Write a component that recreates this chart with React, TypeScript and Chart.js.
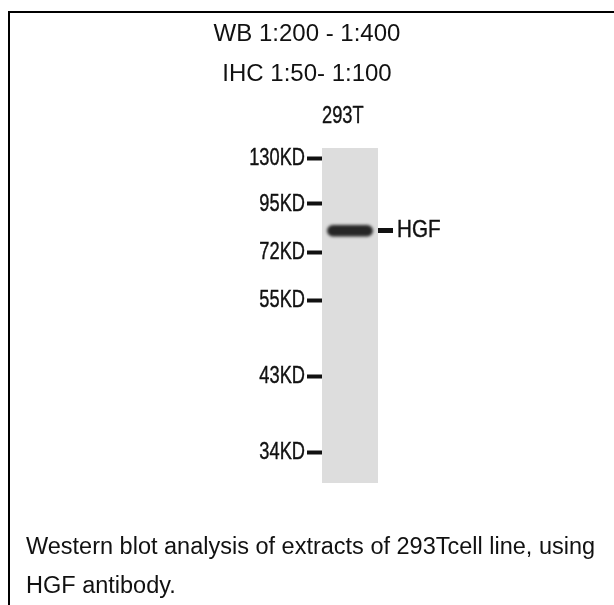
import { useEffect, useRef } from 'react';
import { Chart, registerables } from 'chart.js';

Chart.register(...registerables);

// ---- data ----
const titleLines = ['WB 1:200 - 1:400', 'IHC 1:50- 1:100'];
const laneLabels = ['293T'];
const laneExtent = [0, 1]; // relative mobility, top to bottom of the lane
const markerLabels = ['130KD', '95KD', '72KD', '55KD', '43KD', '34KD'];
const markerMobility = [0.031, 0.167, 0.312, 0.454, 0.681, 0.91];
const bandLabels = ['HGF'];
const bandMobility = [0.247];
const bandHalfWidth = [0.017];
const captionLines = [
  'Western blot analysis of extracts of 293Tcell line, using',
  'HGF antibody.',
];

const FONT = "'Liberation Sans', Arial, Helvetica, sans-serif";

const framePlugin = {
  id: 'frame',
  beforeDraw(chart: any) {
    const ctx = chart.ctx;
    ctx.save();
    ctx.fillStyle = '#ffffff';
    ctx.fillRect(0, 0, chart.width, chart.height);
    ctx.fillStyle = '#000000';
    ctx.fillRect(8, 11, chart.width - 8, 2);
    ctx.fillRect(8, 11, 2, chart.height - 11);
    ctx.restore();
  },
};

const blurPlugin = {
  id: 'datasetBlur',
  beforeDatasetDraw(chart: any, args: any) {
    const b = chart.data.datasets[args.index].blur;
    if (b) {
      chart.ctx.save();
      chart.ctx.filter = `blur(${b}px)`;
    }
  },
  afterDatasetDraw(chart: any, args: any) {
    const b = chart.data.datasets[args.index].blur;
    if (b) chart.ctx.restore();
  },
};

// Tick labels drawn in a condensed face (the blot labels are narrow), placed from the scales.
const condensedLabels = {
  id: 'condensedLabels',
  afterDraw(chart: any, _args: any, opts: any) {
    const ctx = chart.ctx;
    ctx.save();
    ctx.fillStyle = opts.color;
    ctx.strokeStyle = opts.color;
    ctx.lineWidth = opts.stroke;
    (opts.items as any[]).forEach((it) => {
      const scale = chart.scales[it.scaleId];
      const grid = scale.options.grid;
      const tl = grid.drawTicks ? grid.tickLength : 0;
      ctx.font = `${it.size}px ${FONT}`;
      (it.labels as string[]).forEach((label, i) => {
        let x: number;
        let y: number;
        if (scale.isHorizontal()) {
          x = it.alignStart ? chart.chartArea.left : scale.getPixelForValue(i);
          y = scale.bottom - it.padding;
          ctx.textBaseline = 'bottom';
          ctx.textAlign = it.alignStart ? 'left' : 'center';
        } else {
          y = scale.getPixelForValue(it.values[i]);
          ctx.textBaseline = 'middle';
          if (scale.position === 'left') {
            x = scale.right - tl - it.padding;
            ctx.textAlign = 'right';
          } else {
            x = scale.left + tl + it.padding;
            ctx.textAlign = 'left';
          }
        }
        ctx.save();
        ctx.translate(x, y);
        ctx.scale(it.squeeze, 1);
        ctx.fillText(label, 0, 0);
        if (opts.stroke > 0) ctx.strokeText(label, 0, 0);
        ctx.restore();
      });
    });
    ctx.restore();
  },
};

const captionPlugin = {
  id: 'caption',
  afterDraw(chart: any, _args: any, opts: any) {
    const ctx = chart.ctx;
    ctx.save();
    ctx.font = `${opts.size}px ${FONT}`;
    ctx.fillStyle = opts.color;
    ctx.textAlign = 'left';
    ctx.textBaseline = 'middle';
    (opts.lines as string[]).forEach((line, i) => {
      ctx.fillText(line, opts.x, chart.chartArea.bottom + opts.offset + i * opts.lineHeight);
    });
    ctx.restore();
  },
};

export default function App() {
  const canvasRef = useRef<HTMLCanvasElement | null>(null);

  useEffect(() => {
    if (!canvasRef.current) return;
    const chart = new Chart(canvasRef.current, {
      type: 'bar',
      data: {
        labels: laneLabels,
        datasets: [
          {
            label: 'band',
            data: bandMobility.map((m, i) => [m - bandHalfWidth[i], m + bandHalfWidth[i]]),
            backgroundColor: '#262626',
            borderWidth: 0,
            borderRadius: 6,
            borderSkipped: false,
            barPercentage: 0.82,
            categoryPercentage: 1,
            grouped: false,
            order: 1,
            blur: 1.6,
          } as any,
          {
            label: 'lane',
            data: laneLabels.map(() => laneExtent),
            backgroundColor: '#dddddd',
            borderWidth: 0,
            borderSkipped: false,
            barPercentage: 1,
            categoryPercentage: 1,
            grouped: false,
            order: 2,
            blur: 0.7,
          } as any,
        ],
      },
      options: {
        animation: false,
        responsive: true,
        maintainAspectRatio: false,
        layout: { padding: { left: 0, right: 0, top: 0, bottom: 122 } },
        plugins: {
          legend: { display: false },
          tooltip: { enabled: false },
          title: {
            display: true,
            text: titleLines,
            color: '#111',
            font: { family: FONT, size: 24, weight: 'normal', lineHeight: '40px' } as any,
            padding: { top: 14, bottom: 0 },
          },
          condensedLabels: {
            color: '#111',
            stroke: 0.4,
            items: [
              { scaleId: 'x', labels: laneLabels, size: 24, squeeze: 0.76, padding: 20, alignStart: true },
              { scaleId: 'y', labels: markerLabels, values: markerMobility, size: 24, squeeze: 0.76, padding: 2 },
              { scaleId: 'y2', labels: bandLabels, values: bandMobility, size: 24, squeeze: 0.86, padding: 4 },
            ],
          },
          caption: {
            lines: captionLines,
            x: 26,
            offset: 65,
            lineHeight: 39,
            size: 23.5,
            color: '#111',
          },
        } as any,
        scales: {
          x: {
            position: 'top',
            offset: true,
            grid: { display: false, drawTicks: false },
            border: { display: false },
            ticks: { display: false },
            afterFit(scale: any) {
              scale.height = 54;
            },
          },
          y: {
            type: 'linear',
            position: 'left',
            reverse: true,
            min: 0,
            max: 1,
            border: { display: false },
            grid: {
              display: true,
              drawOnChartArea: false,
              drawTicks: true,
              tickLength: 15,
              tickWidth: 4,
              tickColor: '#111',
            },
            ticks: { display: false, autoSkip: false },
            afterBuildTicks(scale: any) {
              scale.ticks = markerMobility.map((v) => ({ value: v }));
            },
            afterFit(scale: any) {
              scale.width = 322;
            },
          },
          y2: {
            type: 'linear',
            axis: 'y',
            position: 'right',
            reverse: true,
            min: 0,
            max: 1,
            border: { display: false },
            grid: {
              display: true,
              drawOnChartArea: false,
              drawTicks: true,
              tickLength: 15,
              tickWidth: 5,
              tickColor: '#111',
            },
            ticks: { display: false, autoSkip: false },
            afterBuildTicks(scale: any) {
              scale.ticks = bandMobility.map((v) => ({ value: v }));
            },
            afterFit(scale: any) {
              scale.width = 236;
            },
          },
        } as any,
      },
      plugins: [framePlugin, blurPlugin, condensedLabels, captionPlugin],
    });
    return () => chart.destroy();
  }, []);

  return (
    <div style={{ position: 'absolute', left: 0, top: 0, width: 614, height: 605 }}>
      <canvas ref={canvasRef} />
    </div>
  );
}
